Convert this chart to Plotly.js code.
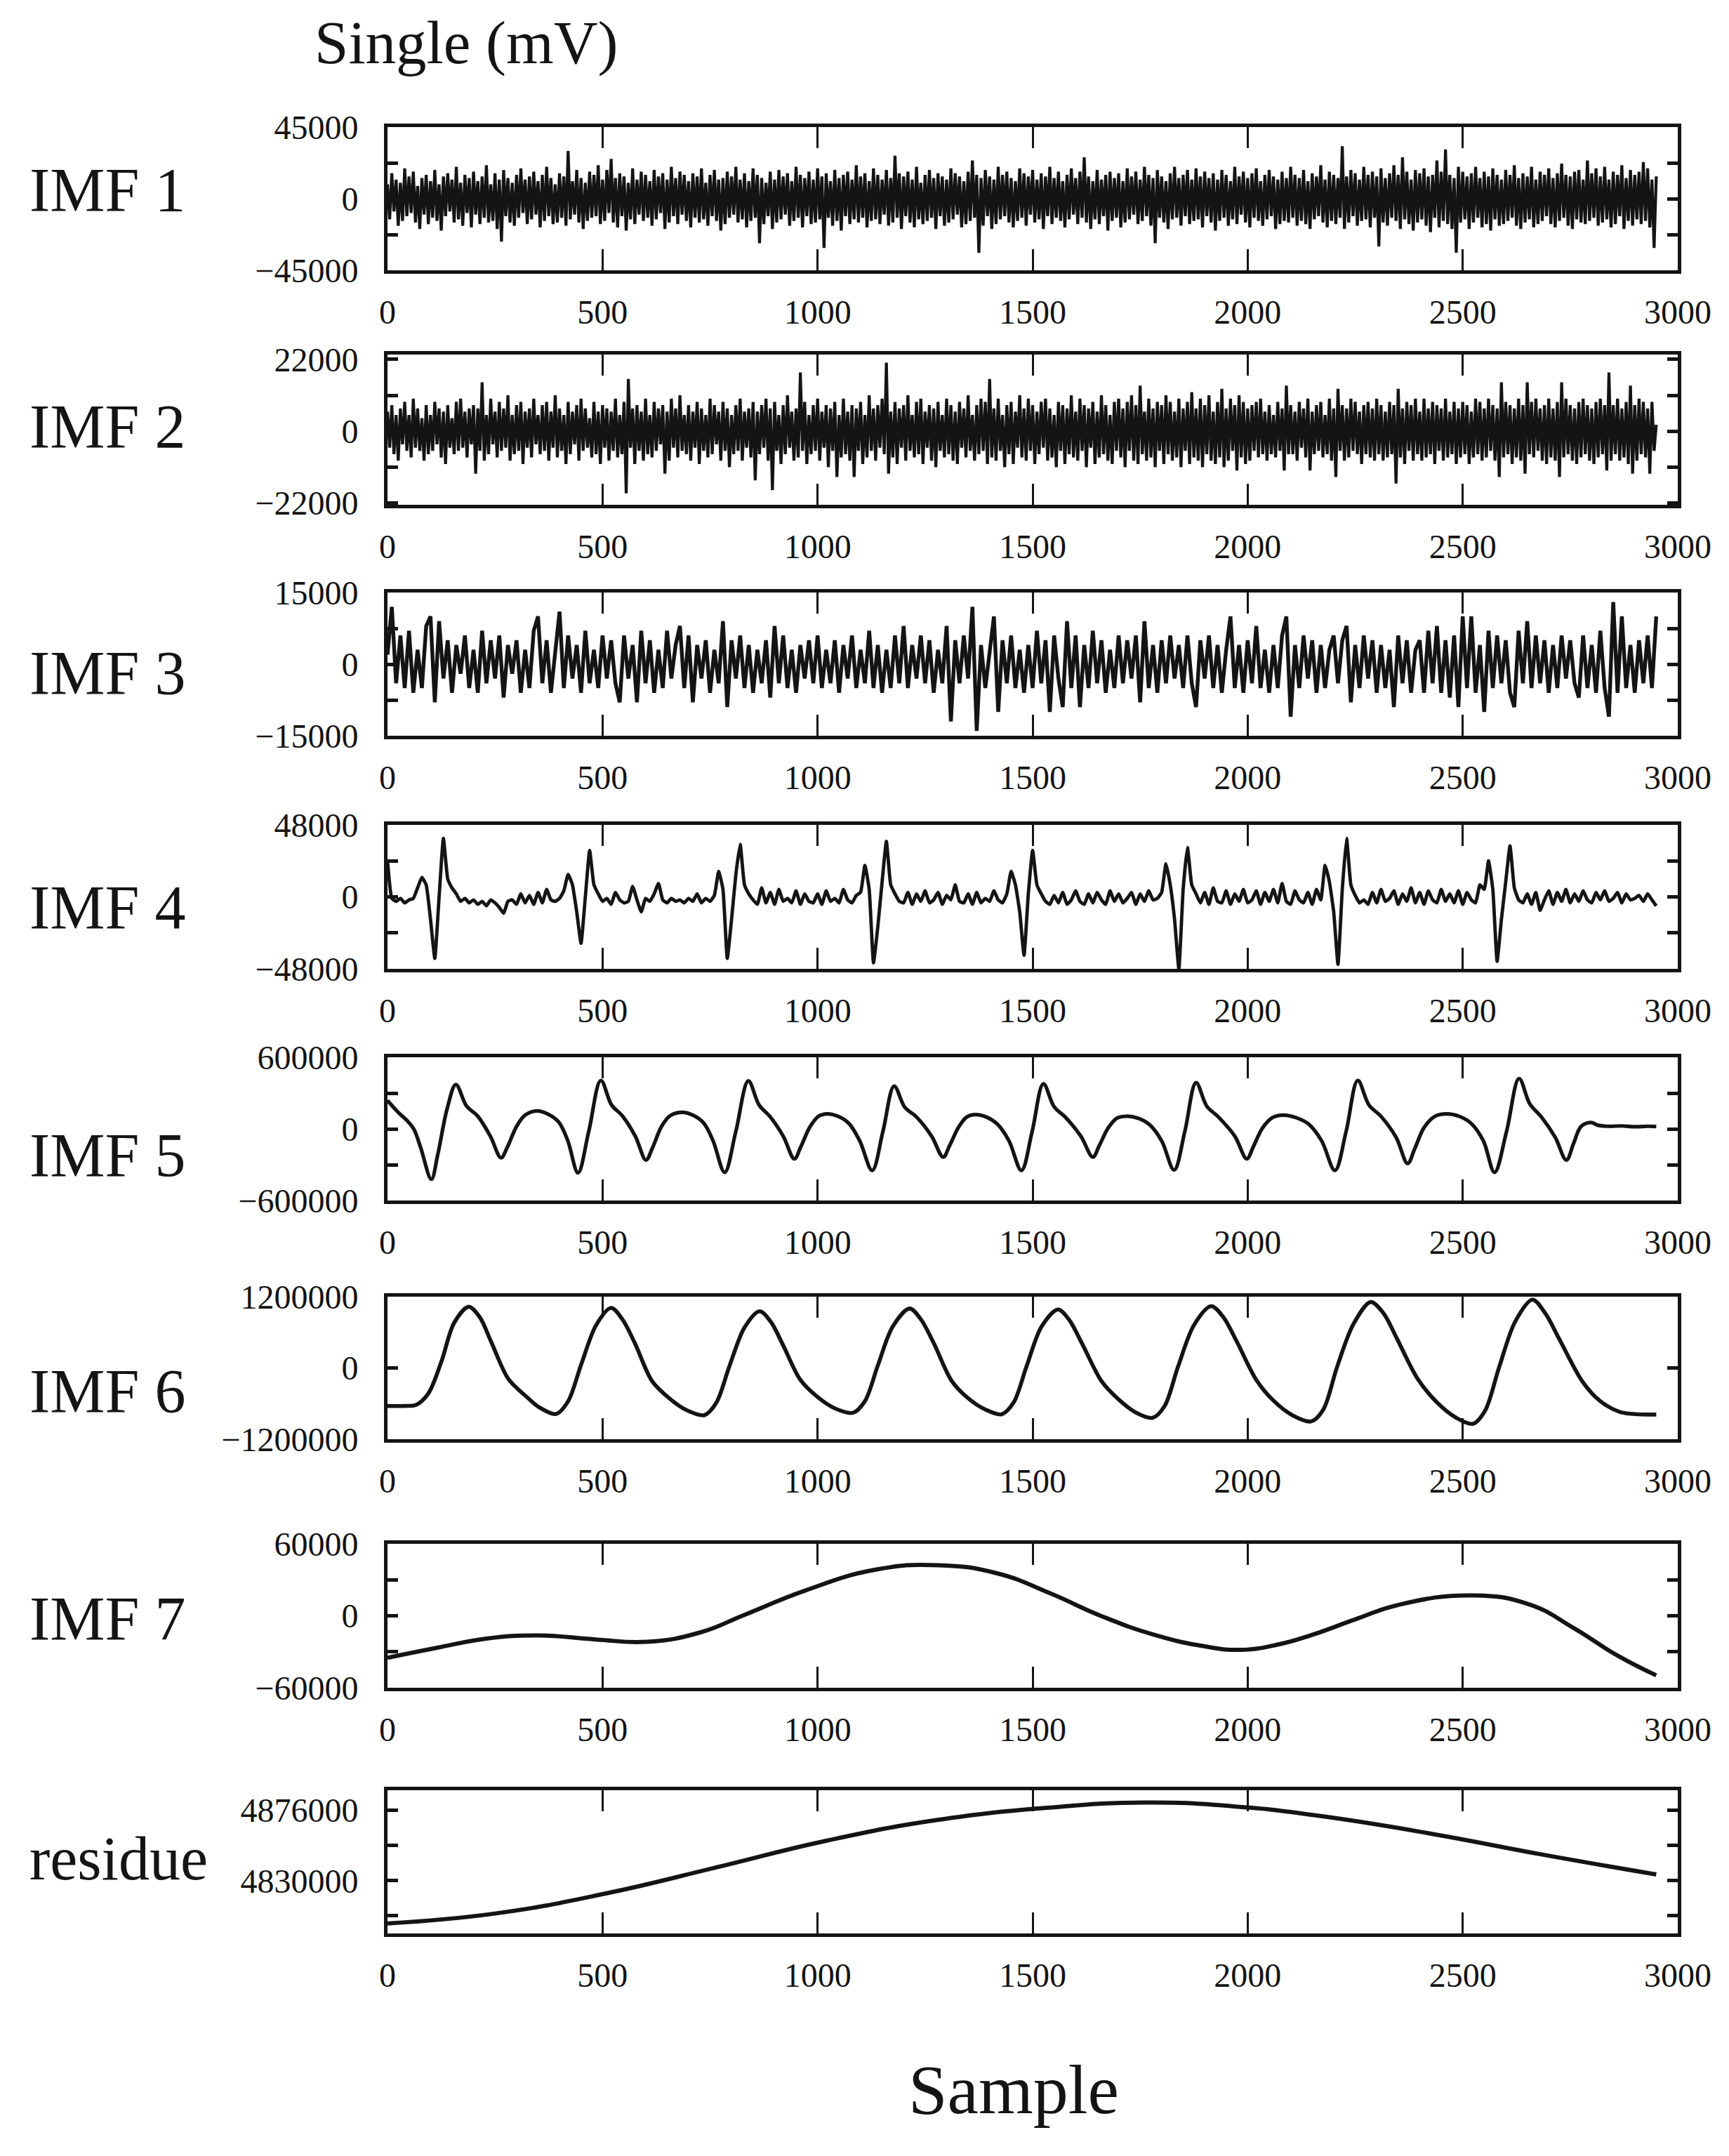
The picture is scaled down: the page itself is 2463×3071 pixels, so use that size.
<!DOCTYPE html>
<html>
<head>
<meta charset="utf-8">
<script src="https://cdn.plot.ly/plotly-3.0.1.min.js"></script>
<style>
  body { margin: 0; background: #fff; }
  #emdChart { width: 2463px; height: 3071px; }
</style>
</head>
<body>
<div id="emdChart"></div>
<script>
// values; IMF arrays are in thousands of mV
var sampleTicks = [0, 500, 1000, 1500, 2000, 2500, 3000];
var panelNames = ['IMF 1', 'IMF 2', 'IMF 3', 'IMF 4', 'IMF 5', 'IMF 6', 'IMF 7', 'residue'];

// IMF 1 and IMF 2: one value every 5 samples starting at 0
var imf1 = [
  9,-13,16,-8,12,-17,10,-14,19,-11,14,-9,17,-15,8,-19,13,-10,15,-16,
  11,-12,18,-14,9,-20,14,-11,16,-8,12,-15,20,-13,10,-17,15,-9,13,-18,
  17,-10,11,-16,14,-12,21,-15,9,-14,16,-19,12,-27,18,-11,13,-15,10,-17,
  15,-12,19,-9,12,-16,14,-13,17,-10,11,-18,15,-14,20,-11,13,-16,9,-15,
  16,-12,14,-17,30,-13,11,-10,18,-15,13,-19,10,-14,17,-12,15,-11,21,-16,
  12,-14,18,-9,25,-15,13,-18,16,-11,14,-20,10,-13,19,-16,12,-10,17,-14,
  15,-12,11,-17,18,-13,14,-9,16,-19,12,-15,20,-11,13,-16,17,-10,15,-14,
  11,-18,16,-12,14,-15,19,-13,10,-17,15,-11,18,-14,12,-20,13,-16,17,-12,
  14,-10,20,-15,12,-13,16,-18,11,-14,19,-12,15,-28,13,-16,10,-11,17,-19,
  12,-15,18,-13,14,-10,16,-17,11,-14,20,-12,15,-18,13,-11,17,-16,12,-15,
  19,-13,14,-31,16,-12,11,-17,18,-14,13,-20,15,-11,17,-16,12,-13,21,-15,
  14,-12,16,-18,11,-14,19,-13,15,-16,12,-10,18,-17,13,-15,27,-12,16,-19,
  14,-11,17,-15,12,-18,20,-13,10,-16,15,-14,18,-12,13,-19,16,-11,14,-17,
  12,-15,19,-13,16,-10,14,-18,11,-16,17,-14,24,-12,15,-34,13,-17,18,-11,
  14,-19,12,-16,20,-13,15,-11,17,-15,13,-18,11,-14,19,-12,16,-17,14,-10,
  18,-15,12,-13,16,-19,14,-11,20,-16,13,-12,17,-14,11,-18,15,-13,19,-10,
  13,-16,17,-12,26,-15,14,-19,11,-13,18,-16,12,-11,15,-20,17,-14,13,-12,
  16,-18,11,-15,19,-13,14,-10,17,-16,12,-14,20,-11,15,-17,13,-28,18,-12,
  14,-15,11,-19,16,-13,20,-12,13,-17,15,-11,18,-16,12,-14,19,-13,14,-18,
  17,-11,13,-15,16,-20,12,-14,18,-12,15,-17,11,-13,20,-16,14,-10,17,-15,
  13,-18,16,-12,19,-14,11,-17,15,-13,18,-11,14,-19,12,-16,17,-14,13,-15,
  20,-12,15,-17,13,-14,18,-16,11,-19,16,-13,14,-11,21,-15,12,-18,17,-14,
  15,-16,13,-12,33,-19,14,-15,18,-11,16,-17,12,-14,20,-13,15,-18,17,-12,
  14,-30,19,-15,13,-17,16,-12,21,-14,15,-19,26,-13,17,-16,12,-20,18,-15,
  16,-13,19,-17,14,-21,15,-12,24,-18,17,-14,31,-16,15,-19,13,-34,20,-15,
  17,-13,14,-19,16,-15,20,-12,13,-18,17,-16,14,-20,19,-13,15,-17,12,-16,
  18,-14,15,-12,21,-17,13,-19,16,-15,14,-13,20,-18,12,-16,17,-14,15,-11,
  19,-16,13,-18,16,-14,22,-12,15,-17,14,-19,17,-13,18,-15,12,-16,24,-14,
  16,-12,19,-17,14,-15,20,-13,12,-18,17,-16,15,-11,21,-19,13,-14,18,-17,
  15,-13,17,-16,23,-14,19,-18,12,-31,14
];
var imf2 = [
  6,-5,8,-7,5,-9,7,-4,9,-6,5,-8,10,-5,7,-6,4,-9,8,-7,
  5,-6,9,-4,7,-8,6,-10,8,-5,4,-7,9,-6,10,-5,6,-8,7,-4,
  8,-13,7,-6,15,-9,5,-7,10,-4,6,-8,9,-6,7,-5,11,-9,5,-7,
  8,-6,9,-10,6,-5,7,-8,10,-4,5,-7,8,-6,9,-9,6,-5,11,-8,
  7,-6,5,-10,9,-7,6,-4,8,-9,10,-6,7,-5,4,-8,9,-7,6,-10,
  8,-5,7,-9,6,-6,10,-8,5,-7,9,-19,16,-5,7,-10,8,-6,6,-9,
  10,-7,5,-8,9,-6,7,-4,8,-13,6,-9,10,-5,7,-8,11,-6,5,-7,
  8,-9,6,-5,9,-10,7,-6,5,-8,10,-7,8,-4,6,-9,9,-6,7,-11,
  5,-7,8,-6,10,-9,6,-5,7,-8,9,-15,6,-7,8,-5,10,-9,7,-18,
  9,-6,5,-10,8,-7,11,-5,6,-9,7,-8,18,-6,9,-10,5,-7,8,-6,
  10,-9,6,-5,8,-11,7,-6,9,-14,5,-8,10,-7,6,-9,8,-14,7,-6,
  9,-10,5,-8,11,-6,7,-9,8,-5,10,-7,21,-13,6,-8,9,-10,7,-5,
  8,-9,11,-6,5,-8,9,-7,10,-10,6,-5,8,-9,7,-11,9,-6,5,-8,
  10,-7,8,-9,6,-10,9,-5,7,-8,11,-6,5,-9,8,-7,10,-6,9,-10,
  16,-8,7,-9,10,-6,5,-11,8,-7,9,-10,6,-5,11,-8,7,-9,10,-6,
  8,-10,6,-7,9,-5,10,-9,7,-8,5,-11,9,-6,8,-10,7,-7,11,-8,
  6,-9,10,-6,8,-11,7,-5,9,-10,6,-8,11,-7,8,-9,5,-10,9,-6,
  10,-8,7,-11,9,-6,11,-9,8,-10,14,-7,6,-9,10,-8,7,-11,9,-6,
  8,-10,11,-7,9,-9,6,-8,10,-11,7,-6,9,-10,12,-8,7,-9,10,-11,
  8,-7,11,-9,6,-10,9,-8,13,-11,7,-9,10,-6,8,-12,11,-8,9,-10,
  7,-9,8,-6,9,-8,10,-7,6,-9,8,-7,5,-8,9,-6,7,-12,14,-7,
  8,-7,6,-9,9,-5,7,-8,10,-12,6,-7,8,-6,9,-8,5,-7,10,-9,
  7,-14,13,-6,8,-9,7,-8,10,-6,9,-7,6,-10,8,-7,9,-8,7,-9,
  10,-7,8,-9,6,-8,9,-7,8,-16,13,-8,7,-10,9,-6,8,-9,10,-7,
  6,-9,10,-8,7,-7,9,-10,8,-6,7,-9,10,-8,6,-7,9,-10,7,-8,
  9,-7,8,-10,6,-8,10,-7,9,-9,7,-8,10,-6,8,-9,7,-14,15,-8,
  9,-7,8,-10,7,-8,10,-9,8,-13,15,-7,9,-8,10,-6,7,-9,8,-10,
  10,-8,7,-9,9,-14,15,-8,10,-7,8,-9,7,-10,9,-8,10,-7,8,-9,
  7,-10,9,-8,10,-7,8,-12,18,-9,8,-7,10,-9,7,-8,9,-10,14,-13,
  8,-9,10,-7,9,-8,7,-13,9,-6,2
];
// IMF 3 and IMF 4: one value every 10 samples starting at 0
var imf3 = [
  2,12,-4,6,-5,7,-6,3,-5,8,10,-8,9,-3,5,-6,4,-2,6,-5,
  3,-6,7,-4,5,-3,6,-7,4,-2,5,-6,3,-5,7,10,-4,5,-6,3,
  11,-5,6,-3,4,-6,7,-4,3,-5,6,-3,5,-4,-8,6,-3,4,-8,7,
  -4,5,-6,3,-5,7,-3,4,8,-5,6,-8,4,-3,5,-6,3,-4,9,-9,
  5,-3,6,-5,4,-6,3,-4,5,-7,8,-4,6,-5,3,-6,4,-3,5,-4,
  6,-5,3,-4,5,-6,4,-3,6,-5,3,-4,7,-5,4,-6,3,-5,6,-4,
  8,-5,4,-3,6,-4,5,-6,3,-4,8,-12,5,-4,6,-3,12,-14,4,-5,
  3,10,-10,5,-4,6,-5,3,-6,4,-5,7,-4,5,-10,6,-3,-9,9,-5,
  6,-9,4,-5,7,-4,5,-6,3,-5,6,-4,5,-3,6,-8,9,-5,4,-6,
  5,-4,6,-3,4,-5,6,-4,-9,5,-3,6,-5,4,-6,3,10,-5,4,-6,
  5,-4,8,-5,3,-6,4,-5,6,10,-11,4,-5,6,-3,5,-6,4,-5,3,
  6,-4,5,8,-8,4,-5,6,-3,5,-6,4,-5,3,-9,6,-4,5,-6,3,
  5,-6,7,-4,8,-6,5,-7,6,-9,10,-5,10,-6,4,-10,7,-5,6,-4,
  5,-6,-9,7,-4,9,-5,6,-4,5,-6,4,-5,6,-3,5,-4,-7,6,-5,
  4,-6,7,-5,-11,13,-6,10,-5,4,-6,5,-4,6,-5,10
];
var imf4 = [
  24,-1,-3,-1,-4,-2,-1,6,13,8,-15,-41,0,39,12,6,2,-3,-1,-4,
  -2,-5,-3,-6,-2,-4,-7,-11,-3,-2,-5,2,-4,1,-5,3,-4,5,-2,-3,
  -1,4,15,8,-10,-31,0,31,8,2,-3,-1,-5,3,-2,-4,-3,7,-2,-10,
  -1,-3,2,9,-2,-4,-1,-3,-2,-4,-1,-3,2,-4,-1,-3,1,17,5,-41,
  -15,15,35,8,2,-2,-5,6,-4,3,-5,5,-3,-1,-4,4,-5,2,-3,-4,
  2,-5,4,-3,-1,-4,5,-2,-4,1,3,21,5,-44,-20,10,37,8,2,-3,
  -4,3,-5,2,-3,4,-4,-2,3,-5,1,-2,8,-3,-4,2,-5,3,-4,-1,
  -3,4,-2,-4,2,17,8,-10,-39,2,31,8,2,-3,-5,1,-4,3,-5,-2,
  4,-3,-5,2,-4,3,-2,-5,4,-3,2,-4,-1,3,-5,2,-3,4,-2,-1,
  3,22,8,-15,-48,5,33,8,2,-4,3,-5,6,-3,-4,4,-5,2,-3,5,
  -4,-2,4,-5,3,-3,5,-4,9,-3,-5,4,-2,-4,3,-5,5,-2,21,10,
  -10,-45,5,39,8,1,-4,-2,-5,3,-4,5,-3,-1,4,-5,2,-3,6,-4,
  3,-5,4,-2,-4,5,-3,2,-4,4,-5,3,-2,-4,8,5,24,5,-43,-15,
  10,34,6,-2,-4,2,-5,3,-9,-2,4,-5,3,-3,5,-4,2,-3,4,-2,
  -4,3,-2,4,-3,-1,3,-4,2,-2,-1,1,-3,2,-2,-6
];

// smooth components, read at their turning points
var imf5Sample = [0,6,26,46,61,77,102,117,139,
  159,184,209,239,264,279,300,320,348,372,398,419,443,468,
  496,521,546,576,601,616,637,657,686,710,735,757,784,810,
  839,864,889,920,946,961,982,1002,1022,1048,1073,1098,1127,1152,
  1178,1203,1230,1265,1292,1307,1328,1347,1367,1392,1418,1445,1474,1499,
  1525,1550,1577,1612,1640,1655,1676,1696,1718,1745,1772,1800,1829,1854,
  1880,1905,1932,1970,1998,2013,2035,2058,2083,2112,2142,2172,2203,2229,
  2256,2282,2310,2345,2372,2388,2410,2435,2463,2492,2520,2548,2574,2602,
  2631,2656,2683,2715,2741,2758,2775,2798,2815,2840,2870,2900,2930,2950];
var imf5Value = [240,213,135,68,0,-155,-422,-213,174,
  371,190,110,-60,-242,-150,20,115,151,126,58,-97,-368,-20,
  406,200,110,-60,-261,-160,20,110,139,115,50,-100,-364,-20,
  402,200,105,-60,-251,-150,15,105,126,105,45,-100,-348,-20,
  358,180,100,-60,-236,-140,15,100,120,100,40,-100,-348,-20,
  377,185,95,-60,-236,-140,10,90,106,90,35,-100,-344,-20,
  387,190,100,-60,-251,-150,10,95,116,95,40,-100,-348,-20,
  406,200,105,-70,-290,-170,10,105,126,105,45,-100,-364,-20,
  422,210,100,-70,-261,-120,20,54,30,22,25,18,22,20];

var imf6Sample = [0,40,67,95,125,155,189,215,241,281,321,352,392,
  420,450,485,520,546,575,615,655,695,737,
  765,795,830,865,891,920,960,1000,1040,1082,
  1110,1140,1175,1214,1240,1270,1312,1350,1390,1428,
  1456,1486,1521,1559,1585,1615,1660,1700,1740,1779,
  1807,1838,1875,1915,1943,1975,2020,2060,2105,2148,
  2176,2208,2246,2286,2316,2348,2395,2440,2485,2524,
  2552,2585,2622,2662,2692,2725,2778,2820,2865,2909,2950];
var imf6Value = [-640,-640,-620,-430,100,760,1030,850,440,-185,-470,-660,-775,
  -560,50,720,1010,820,420,-220,-510,-710,-795,
  -580,30,680,955,780,380,-200,-490,-680,-755,
  -560,40,700,1000,820,420,-220,-510,-700,-780,
  -580,30,700,985,810,410,-220,-530,-750,-840,
  -640,20,720,1040,860,440,-200,-550,-800,-900,
  -700,20,740,1110,920,480,-180,-580,-840,-940,
  -720,20,780,1150,920,480,-225,-560,-740,-780,-785];

var imf7Sample = [0,118,230,351,483,605,727,829,970,1133,1279,1417,1539,1661,1783,
  1900,1983,2070,2150,2250,2353,2524,2656,2757,2859,2950];
var imf7Value = [-35,-26.5,-19,-16.4,-19.7,-21.7,-13.9,0.6,20.9,38.3,42.2,35.4,19,-0.4,-15.9,
  -25.5,-28.4,-24,-15.9,-3,9.3,17,9.3,-10,-33,-49.7];

var residueSample = [0,250,506,763,1020,1276,1533,1762,1967,2173,2429,2685,2950];
var residueValue = [4802000,4808500,4821500,4838500,4856000,4869500,4877500,4881000,
  4878500,4872000,4860500,4847000,4834000];

// axis limits and labelled ticks per panel
var yLimits = [[-45000,45000],[-22500,23500],[-15000,15000],[-48000,48000],
  [-600000,600000],[-1200000,1200000],[-60000,60000],[4795500,4889000]];
var yTickVals = [
  [-45000,-22500,0,22500,45000],
  [-22000,-11000,0,11000,22000],
  [-15000,-7500,0,7500,15000],
  [-48000,-24000,0,24000,48000],
  [-600000,-300000,0,300000,600000],
  [-1200000,0,1200000],
  [-60000,-30000,0,30000,60000],
  [4807000,4830000,4853000,4876000]
];
var yTickText = [
  ['\u221245000','','0','','45000'],
  ['\u221222000','','0','','22000'],
  ['\u221215000','','0','','15000'],
  ['\u221248000','','0','','48000'],
  ['\u2212600000','','0','','600000'],
  ['\u22121200000','0','1200000'],
  ['\u221260000','','0','','60000'],
  ['','4830000','','4876000']
];

function k(arr) { return arr.map(function (v) { return v * 1000; }); }

var H = 3071, W = 2463;
// panel boxes in page pixels [top, bottom]
var boxes = [[181,385],[505,719],[844,1048],[1175,1380],[1506,1710],[1847,2050],[2199,2404],[2550,2754]];
var labelPix = [270,607,959,1292,1645,1981,2305,2647];

var ink = '#141414';
var serif = 'Liberation Serif, Times New Roman, serif';

var series = [
  {x0: 0, dx: 5, y: k(imf1), w: 4.2},
  {x0: 0, dx: 5, y: k(imf2), w: 4.2},
  {x0: 0, dx: 10, y: k(imf3), w: 5.4},
  {x0: 0, dx: 10, y: k(imf4), w: 4.8, smooth: 0.4},
  {x: imf5Sample, y: k(imf5Value), w: 5.2, smooth: 1.0},
  {x: imf6Sample, y: k(imf6Value), w: 5.6, smooth: 0.9},
  {x: imf7Sample, y: k(imf7Value), w: 6, smooth: 1.3},
  {x: residueSample, y: residueValue, w: 6, smooth: 1.3}
];

var data = [];
var layout = {
  width: W, height: H,
  margin: {l: 0, r: 0, t: 0, b: 0},
  paper_bgcolor: '#fff', plot_bgcolor: '#fff',
  showlegend: false,
  font: {family: serif, color: ink},
  annotations: []
};

for (var i = 0; i < series.length; i++) {
  var n = i === 0 ? '' : String(i + 1);
  var s = series[i];
  var tr = {
    type: 'scatter', mode: 'lines',
    xaxis: 'x' + n, yaxis: 'y' + n,
    y: s.y,
    line: {color: ink, width: s.w},
    hoverinfo: 'skip'
  };
  if (s.x) { tr.x = s.x; } else { tr.x0 = s.x0; tr.dx = s.dx; }
  if (s.smooth) { tr.line.shape = 'spline'; tr.line.smoothing = s.smooth; }
  data.push(tr);

  layout['xaxis' + n] = {
    domain: [552 / W, 2390 / W],
    anchor: 'y' + n,
    range: [0, 3000],
    tickmode: 'array', tickvals: sampleTicks,
    ticks: 'inside', ticklen: 30, tickwidth: 3, tickcolor: ink,
    showline: true, linewidth: 5, linecolor: ink, mirror: 'ticks',
    showgrid: false, zeroline: false,
    tickfont: {family: serif, size: 48, color: ink},
    ticklabelstandoff: 13
  };
  layout['yaxis' + n] = {
    domain: [1 - boxes[i][1] / H, 1 - boxes[i][0] / H],
    anchor: 'x' + n,
    range: yLimits[i],
    tickmode: 'array', tickvals: yTickVals[i], ticktext: yTickText[i],
    ticks: 'inside', ticklen: 15, tickwidth: 5, tickcolor: ink,
    showline: true, linewidth: 5, linecolor: ink, mirror: 'ticks',
    showgrid: false, zeroline: false,
    tickfont: {family: serif, size: 48, color: ink},
    ticklabelstandoff: 27
  };
  layout.annotations.push({
    text: panelNames[i], xref: 'paper', yref: 'paper',
    x: 40 / W, xanchor: 'left', y: 1 - labelPix[i] / H, yanchor: 'middle',
    showarrow: false, font: {family: serif, size: 88, color: ink}
  });
}

layout.annotations.push({
  text: 'Single (mV)', xref: 'paper', yref: 'paper',
  x: 446 / W, xanchor: 'left', y: 1 - 61 / H, yanchor: 'middle',
  showarrow: false, font: {family: serif, size: 87, color: ink}
});
layout.annotations.push({
  text: 'Sample', xref: 'paper', yref: 'paper',
  x: 1444 / W, xanchor: 'center', y: 1 - 2976 / H, yanchor: 'middle',
  showarrow: false, font: {family: serif, size: 100, color: ink}
});

Plotly.newPlot('emdChart', data, layout, {staticPlot: true});
</script>
</body>
</html>
